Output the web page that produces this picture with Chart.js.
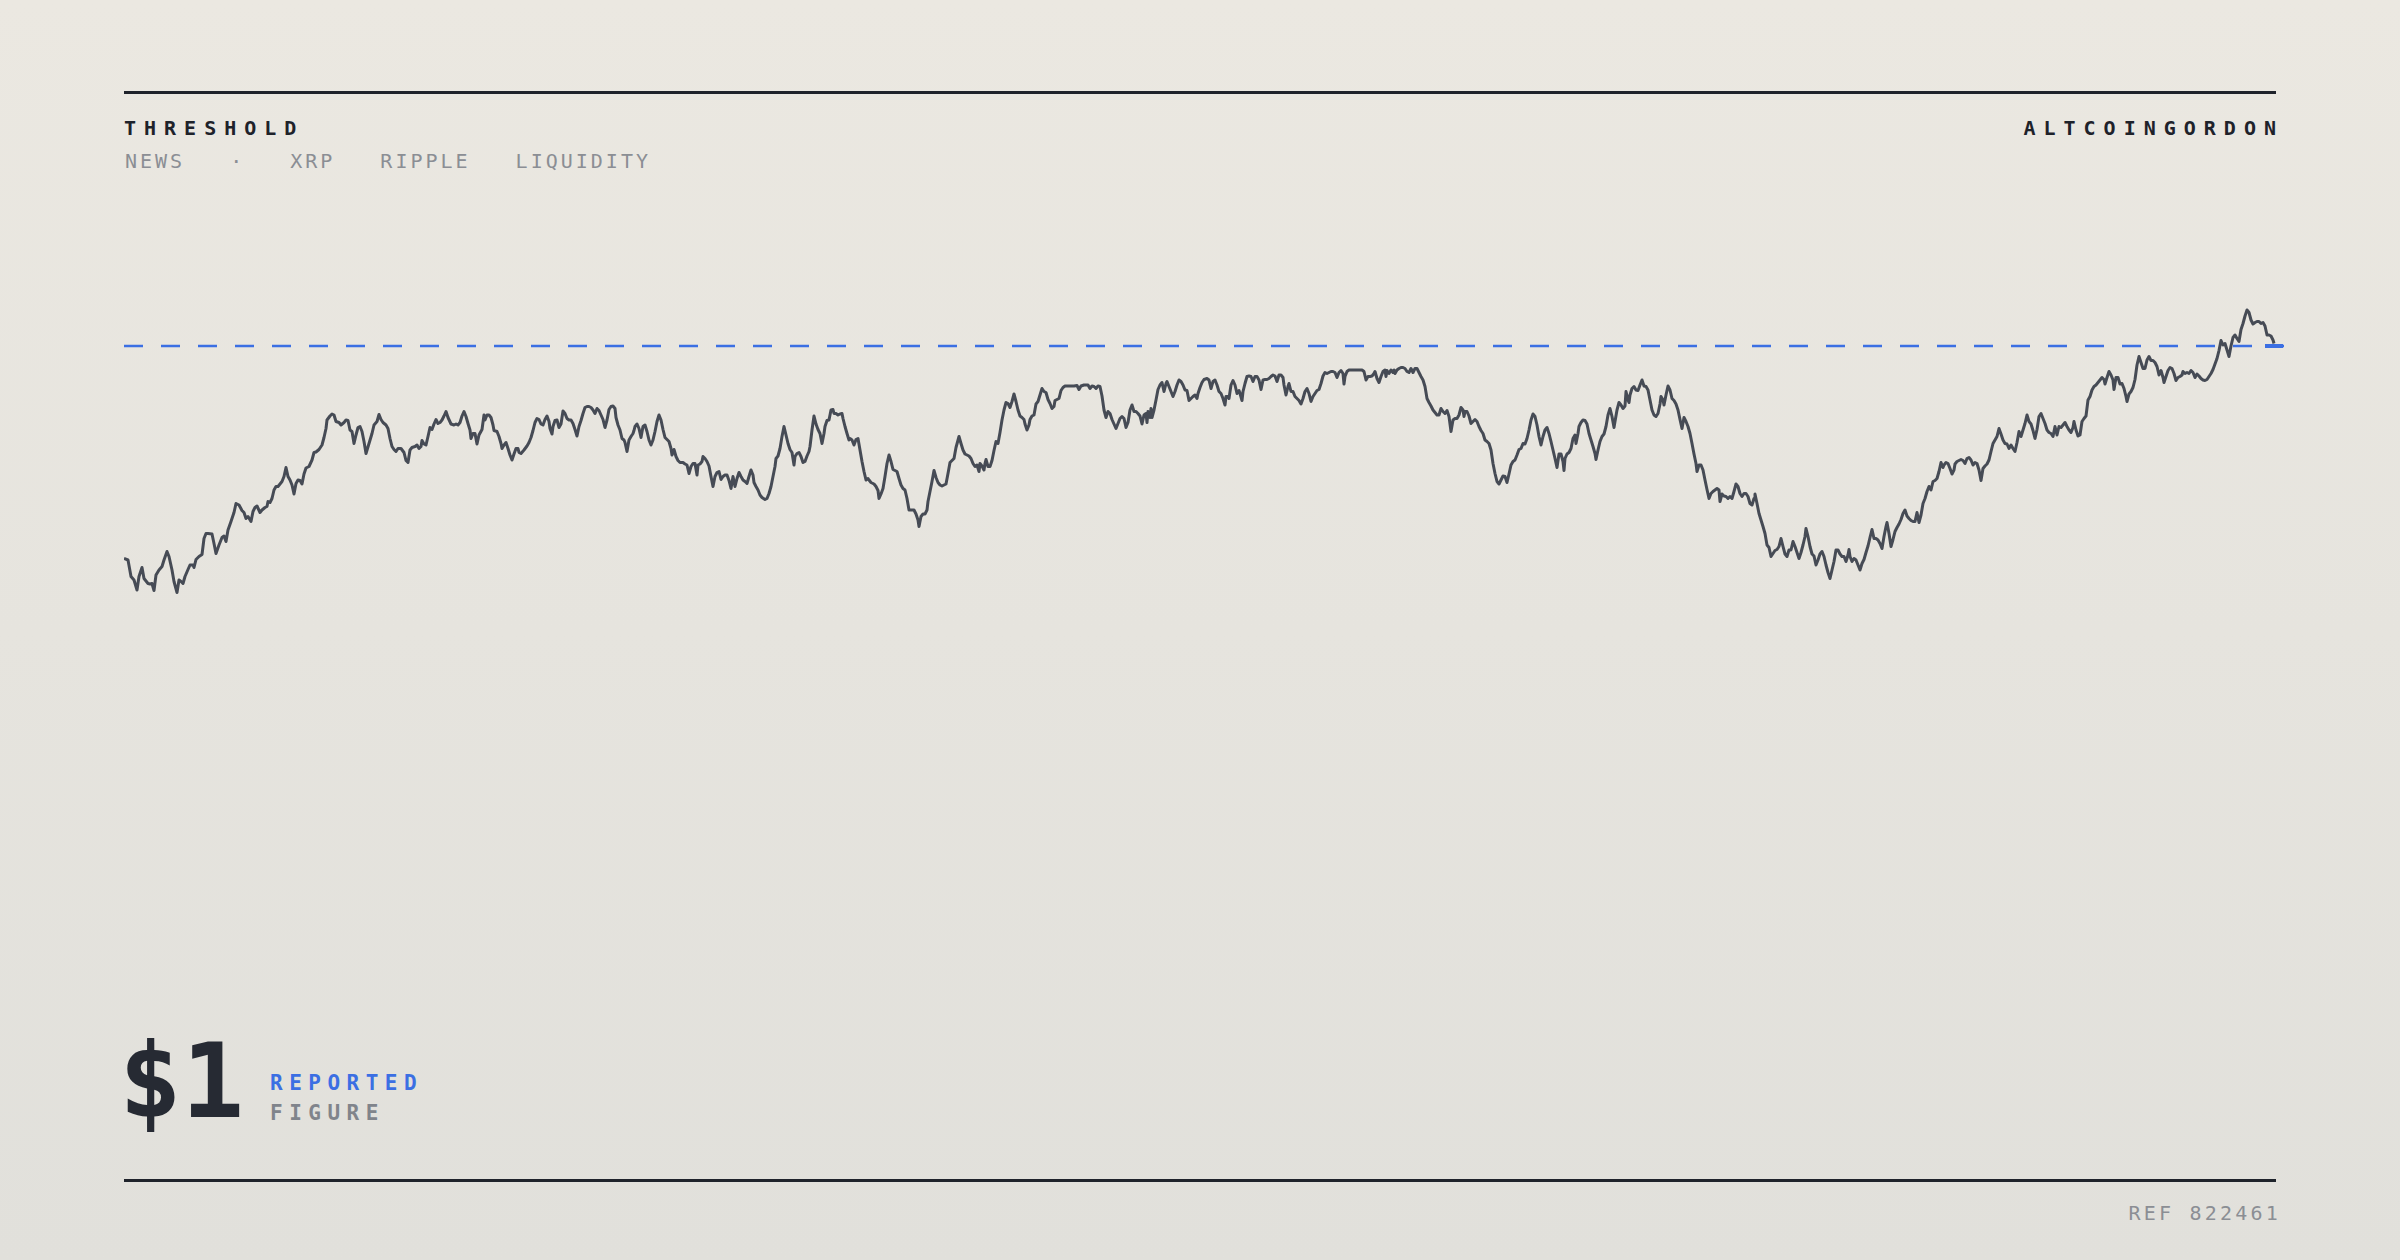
<!DOCTYPE html>
<html>
<head>
<meta charset="utf-8">
<script src="https://cdn.jsdelivr.net/npm/chart.js@4.4.1/dist/chart.umd.min.js"></script>
<style>
  html, body { margin: 0; padding: 0; }
  body { width: 2400px; height: 1260px; overflow: hidden; }
  #page {
    position: relative; width: 2400px; height: 1260px;
    background: linear-gradient(180deg, #ebe8e1 0%, #e1e0db 100%);
    font-family: "DejaVu Sans Mono", "Liberation Mono", monospace;
    color: #1e222a;
  }
  .rule { position: absolute; left: 124px; width: 2152px; height: 3px; background: #1f232b; }
  .t { position: absolute; line-height: 1; white-space: nowrap; }
  .head { font-size: 20px; font-weight: bold; letter-spacing: 8px; top: 118px; }
  #tags { position: absolute; left: 125px; top: 151px; display: flex; gap: 45px;
    font-size: 20px; line-height: 1; letter-spacing: 3px; color: #8b8e94; }
  #big { left: 119px; top: 1029px; font-size: 104px; font-weight: bold; color: #262a33; }
  .lab { left: 270px; font-size: 21px; font-weight: bold; letter-spacing: 6.5px; }
  #ref { right: 119px; top: 1203px; font-size: 20px; letter-spacing: 3.2px; color: #8b8e94; }
  #chart { position: absolute; left: 124px; top: 200px; }
</style>
</head>
<body>
<div id="page">
  <div class="rule" style="top:91px"></div>
  <div class="t head" id="title" style="left:124px"></div>
  <div class="t head" id="brand" style="right:116px"></div>
  <div id="tags"></div>
  <canvas id="chart" width="2160" height="500"></canvas>
  <div class="t" id="big"></div>
  <div class="t lab" id="lab1" style="top:1073px;color:#3b6fe3"></div>
  <div class="t lab" id="lab2" style="top:1103px;color:#80848b"></div>
  <div class="rule" style="top:1179px"></div>
  <div class="t" id="ref"></div>
</div>
<script>
// labels
const title = 'THRESHOLD';
const brand = 'ALTCOINGORDON';
const tags = ['NEWS', '·', 'XRP', 'RIPPLE', 'LIQUIDITY'];
const bigFigure = '$1';
const figureLabels = ['REPORTED', 'FIGURE'];
const refText = 'REF 822461';

// threshold level in USD
const threshold = 1.0;

// session minute index and price (USD)
const minute = [
  0,4,7,10,13,15,18,20,24,26,28,30,32,35,38,40,43,45,48,50,53,55,57,59,61,64,66,69,70,72,75,78,80,82,84,88,90,92,95,98,
  100,102,104,107,110,112,115,118,120,122,124,127,129,131,133,136,138,141,143,144,146,148,150,152,154,156,158,160,162,164,
  166,168,170,172,174,176,178,180,182,185,188,190,192,195,198,200,202,203,206,208,210,212,215,217,220,222,224,226,228,230,
  232,234,236,238,240,242,245,248,250,253,255,257,259,262,264,266,268,270,272,274,277,280,282,284,286,288,291,293,295,297,
  298,300,302,304,306,308,310,312,314,316,318,320,322,324,327,330,332,334,336,338,340,342,344,346,347,349,351,353,355,358,360,
  361,363,365,367,369,370,373,375,377,378,380,382,384,386,388,390,392,394,395,397,400,403,405,407,409,411,413,415,417,419,
  421,423,425,426,428,429,431,433,435,437,439,441,443,445,447,449,451,453,455,457,459,461,463,465,467,469,471,473,475,477,
  479,481,483,485,487,489,491,492,494,496,498,500,501,503,505,507,509,510,511,513,515,517,519,521,523,525,527,529,531,533,
  535,537,539,541,543,545,547,548,550,552,554,556,559,561,563,565,567,569,571,573,574,576,578,579,581,583,585,587,589,591,
  593,595,597,599,601,603,605,607,609,610,611,613,615,617,619,621,623,625,627,629,630,632,634,636,638,641,643,645,647,649,
  651,652,654,656,658,660,662,664,666,668,670,671,673,675,677,679,681,683,685,686,688,690,692,694,696,698,700,701,703,705,
  707,709,710,712,714,716,718,719,721,723,725,
  726,728,730,732,734,736,738,740,742,744,745,747,750,752,754,755,757,759,761,763,765,767,769,771,773,775,777,779,781,783,
  785,787,790,792,794,795,797,799,801,803,804,806,808,810,812,814,816,818,820,822,824,826,828,830,832,835,837,839,841,843,
  845,847,849,851,853,855,856,858,860,861,862,864,866,868,870,872,874,876,878,880,882,884,886,888,890,892,894,896,898,900,
  901,903,905,906,908,910,912,914,916,918,920,922,924,926,928,930,931,933,935,937,939,941,945,950,953,955,957,960,964,966,
  968,970,972,974,976,978,980,982,984,986,988,990,992,994,996,998,1000,1002,1004,1006,1008,1010,1012,1014,1016,1018,1020,1022,1023,1024,
  1026,1027,1028,1030,1032,1034,1036,1038,1040,1042,1043,1045,1047,1049,1051,1053,1055,1057,1059,1061,1063,1065,1067,1069,1071,1073,1074,1076,1078,1080,
  1083,1085,1087,1089,
  1091,1093,1095,1097,1099,1101,1102,1104,1105,1107,1109,1111,1113,1115,1116,1118,1119,1121,1123,1125,1127,1129,1131,1133,1135,1137,1139,1141,1143,1145,
  1147,1149,1151,1153,1155,1157,1159,1160,1162,1164,1165,1167,1169,1171,1173,1175,1177,1179,1181,1183,1185,1187,1189,1191,1193,1195,1197,1199,1201,1203,
  1205,1207,1209,1211,1213,1215,1217,1219,1220,1221,1223,1225,1229,1233,1238,1240,1242,1244,1246,1248,1250,1251,1253,1255,1257,1259,1261,1262,1263,1265,
  1267,1269,1270,1271,1273,1275,1277,1279,1281,1283,1285,1287,1289,1291,1293,1295,1297,1299,1301,1303,1305,1307,1309,1311,1313,1315,1317,1319,1321,1323,
  1325,1327,1329,1331,1333,1335,1337,1339,1340,1341,1343,1345,1347,1349,1351,1353,1355,1357,1359,1361,1363,1365,1367,1369,1371,1373,1375,1377,1379,1381,
  1383,1385,1387,1389,1391,1393,1395,1397,1399,1401,1403,1405,1407,1409,1411,1413,1415,1417,1419,1421,1423,1425,1427,1429,1431,1433,1435,1437,1439,1440,
  1441,1443,1445,1447,1449,1451,1452,1454,1455,
  1457,1459,1461,1463,1465,1467,1469,1471,1472,1474,1476,1478,1480,1482,1484,1486,1488,1490,1491,1493,1495,1497,1499,1501,1502,1504,1505,1506,1508,1510,
  1512,1514,1516,1518,1520,1522,1524,1526,1528,1530,1532,1534,1536,1537,1539,1540,1542,1544,1546,1548,1550,1552,1554,1556,1558,1560,1562,1564,1566,1568,
  1570,1572,1573,1575,1577,1579,1581,1583,1585,1587,1589,1591,1593,1595,1596,1598,1600,1602,1604,1606,1608,1610,1612,1614,1616,1618,1620,1622,1624,1626,
  1628,1630,1631,1633,1635,1637,1639,1641,1643,1645,1647,1649,1651,1653,1655,1657,1659,1661,1663,1665,1667,1669,1671,1673,1675,1677,1679,1681,1682,1684,
  1686,1688,1690,1692,1694,1696,1698,1700,1702,1704,1706,1708,1710,1712,1714,1716,1718,1720,1722,1724,1725,1726,1728,1730,1732,1734,1736,1738,1740,1742,
  1744,1746,1748,1750,1752,1754,1756,1758,1760,1762,1763,1765,1767,1769,1771,1773,1775,1777,1779,1781,1783,1785,1787,1789,1791,1793,1795,1797,1799,1801,
  1803,1805,1807,1809,1811,1813,1815,1817,1819,1820,
  1822,1824,1826,1828,1830,1831,1833,1835,1837,1839,1841,1843,1845,1847,1849,1851,1853,1855,1857,1859,1861,1863,1865,1867,1869,1871,1873,1875,1877,1879,
  1881,1883,1885,1887,1889,1891,1893,1895,1897,1899,1901,1903,1905,1907,1909,1911,1913,1915,1917,1919,1921,1923,1925,1927,1929,1931,1933,1935,1937,1939,
  1941,1943,1945,1947,1949,1950,1952,1954,1956,1958,1960,1962,1964,1966,1968,1970,1972,1974,1976,1978,1980,1981,1983,1985,1987,1989,1990,1992,1994,1996,
  1998,2000,2002,2003,2005,2007,2009,2011,2013,2015,2017,2019,2021,2023,2025,2027,2029,2031,2033,2035,2037,2039,2040,2042,2044,2046,2048,2050,2052,2054,
  2056,2058,2059,2061,2063,2065,2067,2069,2071,2073,2075,2077,2079,2081,2083,2085,2087,2089,2091,2093,2095,2097,2099,2101,2103,2105,2107,2109,2111,2113,
  2115,2117,2119,2121,2123,2125,2127,2129,2131,2133,2135,2137,2139,2141,2143,2145,2147,2149,2150
];

const price = [
  .575,.572,.539,.532,.512,.539,.557,.535,.525,.524,.525,.511,.542,.552,.559,.572,.589,.579,.552,.529,.507,.532,.529,.525,.539,.553,.562,.562,.557,.573,.579,.583,.615,.625,.625,.624,.605,.585,.602,.617,
  .620,.609,.632,.649,.667,.685,.682,.671,.667,.655,.659,.649,.669,.677,.680,.667,.672,.677,.679,.689,.687,.695,.712,.719,.719,.724,.729,.739,.757,.739,
  .732,.722,.704,.725,.732,.731,.724,.744,.756,.759,.772,.787,.788,.793,.802,.817,.835,.852,.860,.864,.862,.849,.847,.842,.847,.852,.851,.832,.829,.805,
  .822,.837,.839,.829,.809,.785,.805,.825,.842,.849,.863,.853,.847,.842,.835,.815,.799,.793,.789,.795,.795,.787,.771,.767,.792,.797,.799,.802,.795,.799,
  .811,.804,.802,.819,.837,.833,.844,.853,.845,.847,.852,.860,.869,.857,.844,.842,.844,.842,.847,.860,.869,.859,.845,.832,.815,.825,.825,.804,.822,.833,.862,
  .852,.862,.862,.857,.842,.831,.829,.819,.805,.795,.802,.807,.795,.782,.772,.784,.795,.795,.787,.785,.792,.800,.807,.817,.831,.847,.855,.853,.844,.842,
  .853,.860,.849,.835,.824,.839,.851,.852,.837,.844,.870,.865,.855,.852,.852,.845,.833,.820,.839,.851,.865,.877,.879,.879,.877,.872,.865,.875,.871,.862,
  .853,.837,.852,.873,.879,.880,.875,.857,.842,.832,.815,.812,.807,.789,.812,.819,.825,.831,.839,.844,.835,.817,.839,.842,.829,.812,.802,.812,.829,.849,
  .862,.852,.833,.817,.813,.809,.795,.782,.793,.779,.771,.767,.767,.764,.762,.745,.759,.765,.765,.742,.762,.764,.769,.779,.775,.769,.760,.739,.719,.739,
  .747,.749,.733,.739,.742,.742,.731,.715,.739,.729,.719,.735,.747,.739,.732,.729,.725,.739,.752,.742,.727,.719,.712,.702,.697,.693,.695,.705,.719,.739,
  .759,.775,.780,.795,.819,.839,.822,.805,.793,.787,.762,.779,.785,.787,.779,.767,.769,.780,.789,.799,.832,.860,.844,.833,.825,.805,.825,.839,.851,.852,
  .872,.873,.865,.865,.862,.864,.865,.855,.839,.825,.812,
  .815,.812,.802,.813,.815,.792,.769,.749,.732,.735,.732,.727,.724,.719,.711,.695,.704,.715,.739,.765,.782,.769,.753,.751,.749,.735,.722,.715,.712,.695,
  .672,.672,.672,.664,.652,.639,.659,.664,.664,.672,.689,.709,.729,.751,.737,.727,.722,.720,.722,.724,.745,.767,.771,.775,.797,.819,.805,.792,.784,.782,
  .780,.775,.765,.759,.762,.749,.765,.760,.752,.765,.773,.759,.759,.771,.791,.809,.805,.827,.852,.872,.887,.885,.877,.889,.904,.889,.872,.860,.857,.853,
  .844,.832,.842,.853,.860,.862,.884,.889,.902,.915,.909,.907,.893,.885,.875,.879,.891,.893,.895,.911,.917,.920,.920,.920,.921,.913,.920,.922,.922,.915,
  .920,.919,.915,.920,.919,.900,.872,.857,.869,.865,.853,.844,.835,.845,.855,.859,.855,.837,.847,.872,.882,.869,.869,.865,.860,.844,.862,.865,.847,.869,
  .857,.875,.857,.872,.892,.913,.922,.927,.909,.925,.929,.919,.909,.899,.909,.922,.932,.929,.922,.912,.911,.891,.895,.899,.902,.895,.905,.917,.927,.933,
  .935,.932,.915,.929,
  .932,.922,.909,.905,.895,.882,.899,.899,.895,.922,.931,.922,.905,.911,.905,.891,.909,.925,.939,.940,.939,.929,.939,.939,.932,.913,.932,.933,.933,.935,
  .939,.942,.940,.929,.942,.942,.937,.922,.902,.919,.925,.909,.909,.899,.895,.891,.884,.895,.909,.915,.905,.889,.899,.905,.911,.913,.925,.940,.947,.945,
  .947,.949,.949,.947,.937,.947,.951,.945,.924,.939,.949,.952,.952,.952,.952,.949,.932,.939,.939,.940,.945,.949,.935,.927,.939,.949,.952,.939,.951,.945,
  .952,.947,.952,.945,.952,.955,.957,.957,.955,.949,.947,.955,.947,.955,.955,.947,.939,.932,.919,.895,.887,.880,.872,.867,.862,.862,.875,.869,.865,.871,
  .859,.829,.852,.855,.855,.862,.877,.872,.859,.869,.869,.860,.845,.849,.853,.849,.839,.831,.825,.812,.809,.805,.792,.765,.745,.729,.724,.732,.740,.739,
  .727,.744,.762,.769,.772,.782,.793,.795,.805,.804,.815,.832,.852,.864,.859,.842,.819,.802,.819,.832,.837,.825,.809,.792,.775,.757,.784,.784,.769,.751,
  .775,.784,.787,.795,.815,.822,.805,.825,.839,
  .847,.852,.851,.844,.825,.812,.799,.785,.773,.792,.809,.819,.824,.839,.862,.875,.859,.837,.849,.872,.887,.882,.875,.880,.909,.892,.887,.902,.915,.919,
  .912,.911,.922,.932,.920,.919,.912,.892,.872,.862,.859,.865,.884,.899,.892,.882,.902,.920,.912,.895,.891,.884,.872,.853,.835,.857,.849,.839,.825,.805,
  .784,.765,.749,.762,.762,.752,.732,.713,.695,.705,.709,.712,.715,.712,.689,.704,.700,.699,.695,.699,.695,.709,.724,.719,.705,.699,.705,.705,.699,.685,
  .682,.695,.704,.685,.665,.652,.639,.625,.602,.597,.579,.585,.591,.593,.599,.615,.599,.584,.579,.592,.592,.609,.599,.587,.575,.587,.602,.619,.635,.619,
  .599,.584,.580,.562,.572,.584,.589,.579,.562,.547,.535,.552,.569,.592,.592,.584,.579,.579,.569,.582,.593,.579,.569,.575,.572,.562,.552,.565,.573,.587,
  .600,.617,.633,.615,.615,.612,.605,.595,.619,.639,.647,.625,.599,.613,.629,.637,.644,.653,.665,.672,.660,.655,.651,.649,.649,.667,.647,.662,.685,.695,
  .709,.719,.712,.729,.731,.735,.749,.767,.757,.762,
  .767,.765,.755,.744,.752,.764,.769,.771,.773,.771,.765,.775,.777,.772,.762,.767,.765,.752,.731,.755,.760,.764,.772,.789,.805,.812,.819,.835,.824,.812,
  .805,.804,.795,.802,.795,.789,.807,.829,.819,.832,.845,.862,.849,.844,.831,.815,.833,.859,.865,.855,.845,.832,.827,.825,.819,.839,.822,.839,.837,.842,
  .847,.839,.832,.827,.837,.849,.832,.820,.822,.849,.855,.860,.892,.899,.912,.919,.922,.927,.932,.937,.933,.924,.937,.949,.942,.932,.913,.937,.937,.924,
  .925,.915,.899,.889,.904,.909,.917,.933,.962,.979,.967,.955,.955,.972,.979,.971,.971,.967,.959,.942,.951,.937,.927,.939,.951,.957,.955,.945,.931,.937,
  .939,.942,.949,.945,.947,.945,.951,.947,.937,.944,.940,.935,.932,.931,.933,.939,.945,.953,.964,.975,.991,1.011,1.002,1.005,.992,.979,1.000,1.017,1.022,1.015,
  1.009,1.033,1.045,1.060,1.072,1.067,1.052,1.044,1.047,1.049,1.049,1.045,1.047,1.040,1.022,1.022,1.020,1.012,1.005
];

document.getElementById('title').textContent = title;
document.getElementById('brand').textContent = brand;
document.getElementById('big').textContent = bigFigure;
document.getElementById('lab1').textContent = figureLabels[0];
document.getElementById('lab2').textContent = figureLabels[1];
document.getElementById('ref').textContent = refText;
const tagBox = document.getElementById('tags');
tags.forEach(s => {
  const el = document.createElement('span');
  el.textContent = s;
  tagBox.appendChild(el);
});

const lastMinute = minute[minute.length - 1];
const series = minute.map((m, i) => ({ x: m, y: price[i] }));

new Chart(document.getElementById('chart').getContext('2d'), {
  type: 'line',
  data: {
    datasets: [
      {
        data: series,
        borderColor: '#464b55',
        borderWidth: 3,
        borderJoinStyle: 'round',
        pointRadius: 0,
        tension: 0,
        order: 0
      },
      {
        data: [{ x: lastMinute - 9, y: threshold }, { x: lastMinute + 9, y: threshold }],
        borderColor: '#3b6fe3',
        borderWidth: 4,
        pointRadius: 0,
        order: 1
      },
      {
        data: [{ x: 0, y: threshold }, { x: 2160, y: threshold }],
        borderColor: '#3b6fe3',
        borderWidth: 2.5,
        borderDash: [19, 18],
        pointRadius: 0,
        order: 2
      }
    ]
  },
  options: {
    responsive: false,
    animation: false,
    devicePixelRatio: 1,
    layout: { padding: 0 },
    plugins: { legend: { display: false }, tooltip: { enabled: false } },
    scales: {
      x: { type: 'linear', min: 0, max: 2160, display: false },
      y: { min: 0.292, max: 1.292, display: false }
    }
  }
});
</script>
</body>
</html>
